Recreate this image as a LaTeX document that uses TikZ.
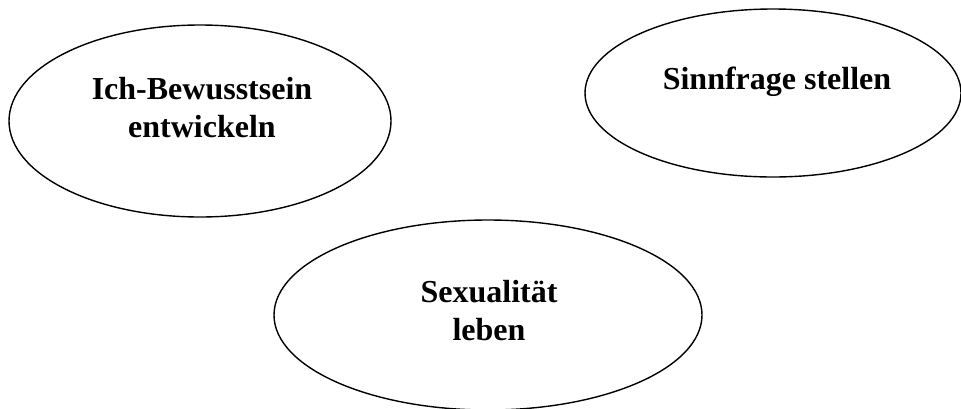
\documentclass[tikz,border=0pt]{standalone}
\usepackage{fontspec}
\setmainfont{Liberation Serif}
\usetikzlibrary{shapes.geometric,positioning,calc}

\begin{document}
\begin{tikzpicture}[
  x=0.5pt,y=-0.5pt,
  blob/.style={draw=black,ellipse,line width=0.7pt,inner sep=0pt},
  lbl/.style={font=\bfseries\fontsize{16}{19}\selectfont,align=center,inner sep=0pt}]
\useasboundingbox (0,0) rectangle (961,408);
% the three ellipses
\node[blob,minimum width=191pt,minimum height=96pt] (ich) at (200,121) {};
\node[blob,minimum width=188pt,minimum height=84pt] (sinn) at (773,93) {};
\node[blob,minimum width=214pt,minimum height=95pt] (sexu) at (488,315) {};
% their texts, set a bit above the centre
\node[lbl] (ichtxt) at ($(ich.center)+(2,-13)$) {Ich-Bewusstsein\\entwickeln};
\node[lbl] (sinntxt) at ($(sinn.center)+(4,-11)$) {Sinnfrage stellen};
\node[lbl] (sexutxt) at ($(sexu.center)+(1,-4)$) {Sexualität\\leben};
\end{tikzpicture}
\end{document}
